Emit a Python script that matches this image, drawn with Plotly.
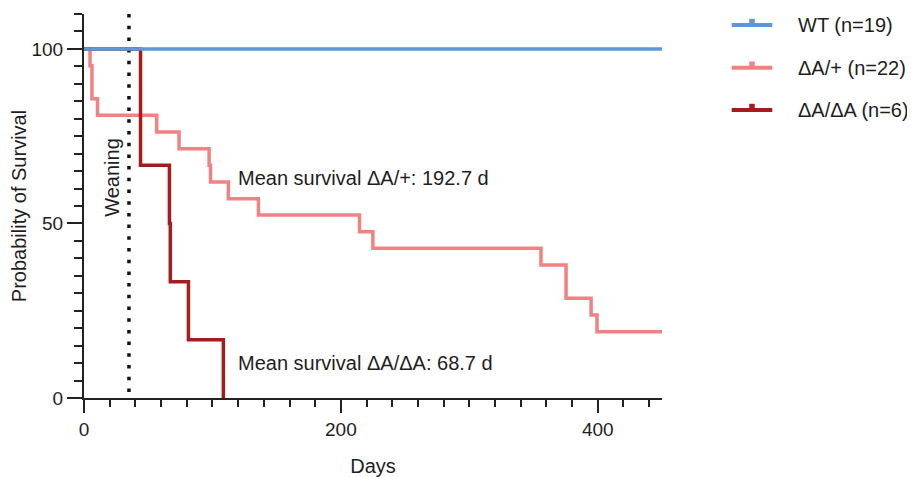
import plotly.graph_objects as go

# ---------------- data ----------------
wt_days = [0, 450]
wt_surv = [100, 100]

het_days = [0, 4.7, 6.2, 10.5, 56.6, 74.0, 97.4, 98.5, 112.4, 135.8, 214.5, 224.9, 355.8, 375.3, 394.8, 399.4, 450]
het_surv = [100, 95.2, 85.7, 81.0, 76.2, 71.4, 66.7, 61.9, 57.1, 52.4, 47.6, 42.9, 38.1, 28.6, 23.8, 19.0, 19.0]

hom_days = [0, 44, 66.5, 67.2, 81.3, 108.5]
hom_surv = [100, 66.7, 50.0, 33.3, 16.7, 0]

weaning_day = 35
series_names = ["WT (n=19)", "ΔA/+ (n=22)", "ΔA/ΔA (n=6)"]
series_colors = ["#5E96D8", "#F28282", "#A41C1C"]
annot_het = "Mean survival ΔA/+: 192.7 d"
annot_hom = "Mean survival ΔA/ΔA: 68.7 d"

FONT = "Arial, Liberation Sans, sans-serif"
TXT = "#1e1e1e"

fig = go.Figure()

# weaning dotted line
fig.add_trace(go.Scatter(x=[weaning_day, weaning_day], y=[110, 0], mode="lines",
                         line=dict(color="#111111", width=3.5, dash="3.5px,8.2px"),
                         showlegend=False, hoverinfo="skip"))

# draw order: ΔA/+, ΔA/ΔA, then WT on top
for idx, (d, s) in [(1, (het_days, het_surv)), (2, (hom_days, hom_surv)), (0, (wt_days, wt_surv))]:
    fig.add_trace(go.Scatter(x=d, y=s, mode="lines",
                             line=dict(color=series_colors[idx], width=3.5, shape="hv"),
                             name=series_names[idx], showlegend=False))

# manual legend (paper coords)
leg_y = [0.9714, 0.8603, 0.7502]
for yy, c, n in zip(leg_y, series_colors, series_names):
    fig.add_shape(type="line", xref="paper", yref="paper", x0=1.1206, x1=1.1908, y0=yy, y1=yy,
                  line=dict(color=c, width=4))
    fig.add_shape(type="line", xref="paper", yref="paper", x0=1.1557, x1=1.1557, y0=yy, y1=yy + 0.016,
                  line=dict(color=c, width=5.5))
    fig.add_annotation(x=1.2318, y=yy, xref="paper", yref="paper", text=n, showarrow=False,
                       xanchor="left", yanchor="middle", font=dict(family=FONT, size=20, color=TXT))

fig.add_annotation(x=21.6, y=63.3, text="Weaning", textangle=-90, showarrow=False,
                   font=dict(family=FONT, size=20, color=TXT))
fig.add_annotation(x=118.5, y=63.0, text=annot_het, showarrow=False, xanchor="left", yanchor="middle",
                   font=dict(family=FONT, size=20, color=TXT))
fig.add_annotation(x=118.5, y=10.0, text=annot_hom, showarrow=False, xanchor="left", yanchor="middle",
                   font=dict(family=FONT, size=20, color=TXT))

axis_common = dict(showline=True, linewidth=2, linecolor="#222222", ticks="outside", tickwidth=2,
                   tickcolor="#222222", showgrid=False, zeroline=False,
                   tickfont=dict(family=FONT, size=19, color=TXT))

fig.update_xaxes(range=[0, 450], tickmode="linear", tick0=0, dtick=200, ticklen=13,
                 minor=dict(tickmode="linear", tick0=0, dtick=20, ticks="outside", ticklen=7, tickwidth=2,
                            tickcolor="#222222"),
                 title=dict(text="Days", font=dict(family=FONT, size=20, color=TXT), standoff=24),
                 **axis_common)
fig.update_yaxes(range=[0, 110], tickmode="linear", tick0=0, dtick=50, ticklen=15,
                 minor=dict(tickmode="linear", tick0=0, dtick=5, ticks="outside", ticklen=8, tickwidth=2,
                            tickcolor="#222222"),
                 title=dict(text="Probability of Survival", font=dict(family=FONT, size=20, color=TXT), standoff=2),
                 **axis_common)

# page body has an 8px default margin -> figure is 907x469 and offset by 8px
fig.update_layout(width=907, height=469, margin=dict(l=76, r=253, t=6, b=79, autoexpand=False),
                  plot_bgcolor="white", paper_bgcolor="white", showlegend=False,
                  font=dict(family=FONT, size=20, color=TXT))

fig.write_html("out.html")
